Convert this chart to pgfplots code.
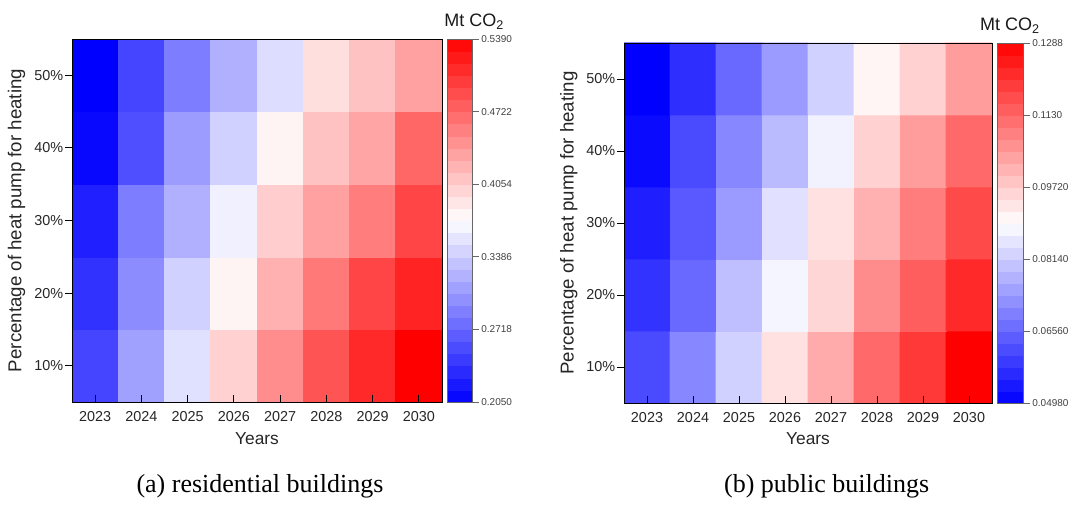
\documentclass[border=0pt]{standalone}
\usepackage{fontspec}
\setmainfont{Liberation Sans}
\newfontfamily\capfont{Liberation Serif}
\usepackage{pgfplots}
\usepackage{pgfplotstable}
\pgfplotsset{compat=1.18}

\pgfplotstableread{
x y c
0 0 0.250
1 0 0.310
2 0 0.352
3 0 0.402
4 0 0.447
5 0 0.484
6 0 0.512
7 0 0.539
0 1 0.238
1 1 0.297
2 1 0.342
3 1 0.379
4 1 0.424
5 1 0.460
6 1 0.494
7 1 0.516
0 2 0.225
1 2 0.287
2 2 0.320
3 2 0.362
4 2 0.405
5 2 0.434
6 2 0.457
7 2 0.494
0 3 0.210
1 3 0.257
2 3 0.307
3 3 0.342
4 3 0.379
5 3 0.412
6 3 0.431
7 3 0.472
0 4 0.205
1 4 0.250
2 4 0.287
3 4 0.320
4 4 0.350
5 4 0.394
6 4 0.412
7 4 0.434
}\residential

\pgfplotstableread{
x y c
0 0 0.0613
1 0 0.0707
2 0 0.0822
3 0 0.0940
4 0 0.1023
5 0 0.1126
6 0 0.1201
7 0 0.1288
0 1 0.0577
1 1 0.0660
2 1 0.0794
3 1 0.0877
4 1 0.0956
5 1 0.1071
6 1 0.1142
7 1 0.1225
0 2 0.0545
1 2 0.0636
2 2 0.0739
3 2 0.0846
4 2 0.0940
5 2 0.1016
6 2 0.1094
7 2 0.1173
0 3 0.0513
1 3 0.0613
2 3 0.0707
3 3 0.0786
4 3 0.0873
5 3 0.0964
6 3 0.1047
7 3 0.1126
0 4 0.0498
1 4 0.0569
2 4 0.0660
3 4 0.0739
4 4 0.0822
5 4 0.0909
6 4 0.0964
7 4 0.1047
}\public

\pgfplotsset{
  hm/.style={
    scale only axis,
    axis on top,
    colormap={bwr}{rgb255=(0,0,255) rgb255=(255,255,255) rgb255=(255,0,0)},
    xmin=-0.5, xmax=7.5, ymin=-0.5, ymax=4.5,
    xtick={0,1,2,3,4,5,6,7},
    xticklabels={2023,2024,2025,2026,2027,2028,2029,2030},
    ytick={0,1,2,3,4},
    yticklabels={10\%,20\%,30\%,40\%,50\%},
    xtick pos=bottom, ytick pos=left,
    xtick align=inside, ytick align=outside,
    major tick length=5pt,
    tick style={black, line width=0.6pt},
    axis line style={black, line width=0.6pt},
    tick label style={font=\fontsize{10.8}{12}\selectfont, text=black!85},
    yticklabel style={inner sep=1.4pt},
    xticklabel style={yshift=-3.2pt},
    xlabel={Years},
    xlabel style={font=\fontsize{13}{15}\selectfont, text=black!85, at={(axis description cs:0.5,-0.07)}, anchor=north},
    ylabel={Percentage of heat pump for heating},
    every axis y label/.style={at={(axis description cs:-0.15,0.5)}, rotate=90, anchor=center, font=\fontsize{14}{16}\selectfont, text=black!85},
    colorbar sampled,
  },
  cb/.style={
    scale only axis,
    at={(parent axis.north east)}, anchor=north west, xshift=-4.75pt,
    samples=31,
    ytick pos=right, yticklabel pos=right,
    ytick align=outside,
    major tick length=5pt,
    tick style={black!60, line width=0.5pt},
    axis line style={black!60, line width=0.5pt},
    yticklabel style={font=\fontsize{7.5}{9}\selectfont, text=black!75, inner sep=1.8pt},
    title={Mt CO\textsubscript{2}},
    title style={at={(0.5,1)}, anchor=base, yshift=3pt, font=\fontsize{13.5}{15}\selectfont, text=black!90},
  },
}

\begin{document}
\begin{tikzpicture}
\useasboundingbox (0,0) rectangle (802.5pt,379.5pt);

\begin{axis}[hm,
  at={(54pt,78pt)}, anchor=south west,
  width=277.5pt, height=272.25pt,
  point meta min=0.205, point meta max=0.539,
  colorbar style={cb, width=18.75pt, height=272.25pt,
    ytick={0.205,0.2718,0.3386,0.4054,0.4722,0.539},
    yticklabels={0.2050,0.2718,0.3386,0.4054,0.4722,0.5390},
    title style={xshift=11pt}},
]
\addplot[matrix plot*, mesh/cols=8, point meta=explicit] table[x=x, y=y, meta=c] {\residential};
\end{axis}

\begin{axis}[hm,
  at={(468pt,77.25pt)}, anchor=south west,
  width=276pt, height=270pt,
  point meta min=0.0498, point meta max=0.1288,
  colorbar style={cb, width=19.5pt, height=270pt,
    ytick={0.0498,0.0656,0.0814,0.0972,0.1130,0.1288},
    yticklabels={0.04980,0.06560,0.08140,0.09720,0.1130,0.1288}},
]
\addplot[matrix plot*, mesh/cols=8, point meta=explicit] table[x=x, y=y, meta=c] {\public};
\end{axis}

\node[font=\capfont\fontsize{19.5}{22}\selectfont, anchor=base] at (195pt,9.75pt) {(a) residential buildings};
\node[font=\capfont\fontsize{19.5}{22}\selectfont, anchor=base] at (620pt,9.75pt) {(b) public buildings};
\end{tikzpicture}
\end{document}
